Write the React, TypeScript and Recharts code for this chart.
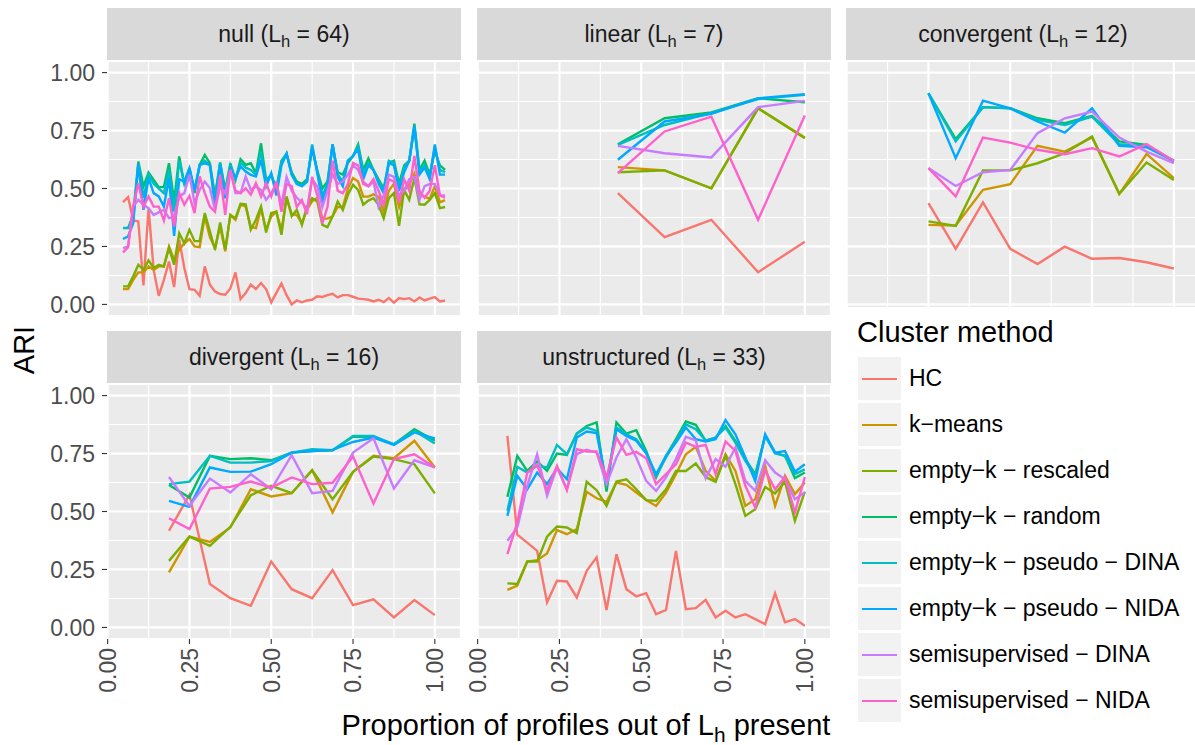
import React from 'react';
import { LineChart, Line, XAxis, YAxis, CartesianGrid } from 'recharts';

const FONT = '"Liberation Sans", Arial, Helvetica, sans-serif';

// ---- series meta ----
const seriesKeys = ['hc', 'km', 'rs', 'ra', 'pd', 'pn', 'sd', 'sn'];
const seriesNames = [
  'HC',
  'k\u2212means',
  'empty\u2212k \u2212 rescaled',
  'empty\u2212k \u2212 random',
  'empty\u2212k \u2212 pseudo \u2212 DINA',
  'empty\u2212k \u2212 pseudo \u2212 NIDA',
  'semisupervised \u2212 DINA',
  'semisupervised \u2212 NIDA',
];
const seriesColors = ['#F8766D', '#CD9600', '#7CAE00', '#00BE67', '#00BFC4', '#00A9FF', '#C77CFF', '#FF61CC'];

// ---- axis ticks ----
const xMajor = [0, 0.25, 0.5, 0.75, 1];
const xMinor = [0.125, 0.375, 0.625, 0.875];
const yMajor = [0, 0.25, 0.5, 0.75, 1];
const yMinor = [0.125, 0.375, 0.625, 0.875];
const X_DOMAIN: [number, number] = [-0.002, 1.08];
const Y_DOMAIN: [number, number] = [-0.05, 1.05];

// ---- null (L_h = 64), profiles 3..66 ----
const nullL = 64;
const nullStart = 3;
const nullHC = [0.441,0.463,0.362,0.358,0.082,0.415,0.149,0.037,0.106,0.185,0.075,0.279,0.157,0.066,0.063,0.037,0.164,0.085,0.056,0.045,0.042,0.069,0.138,0.023,0.049,0.085,0.066,0.092,0.066,0.009,0.05,0.09,0.04,0.0,0.017,0.009,0.017,0.02,0.035,0.032,0.04,0.046,0.03,0.04,0.04,0.033,0.025,0.023,0.02,0.013,0.02,0.01,0.027,0.008,0.027,0.023,0.027,0.013,0.03,0.017,0.025,0.032,0.013,0.017];
const nullKM = [0.066,0.066,0.106,0.138,0.138,0.164,0.149,0.164,0.164,0.25,0.193,0.236,0.264,0.282,0.25,0.247,0.379,0.29,0.243,0.336,0.229,0.386,0.365,0.43,0.422,0.336,0.329,0.415,0.322,0.379,0.40,0.32,0.46,0.39,0.385,0.35,0.41,0.445,0.46,0.37,0.37,0.38,0.42,0.42,0.50,0.545,0.53,0.465,0.465,0.475,0.465,0.40,0.49,0.52,0.42,0.49,0.52,0.565,0.47,0.465,0.455,0.51,0.44,0.45];
const nullRS = [0.078,0.078,0.121,0.171,0.149,0.19,0.157,0.171,0.164,0.243,0.171,0.307,0.264,0.322,0.273,0.273,0.394,0.315,0.236,0.353,0.236,0.386,0.372,0.434,0.432,0.322,0.365,0.422,0.31,0.394,0.40,0.30,0.466,0.38,0.408,0.343,0.422,0.458,0.444,0.343,0.333,0.38,0.444,0.408,0.473,0.516,0.494,0.43,0.448,0.458,0.43,0.372,0.458,0.48,0.339,0.494,0.451,0.545,0.432,0.43,0.451,0.48,0.415,0.42];
const nullRA = [0.329,0.329,0.386,0.616,0.509,0.569,0.537,0.506,0.506,0.609,0.444,0.638,0.516,0.588,0.48,0.602,0.645,0.609,0.466,0.612,0.494,0.609,0.537,0.626,0.602,0.609,0.566,0.695,0.537,0.559,0.50,0.62,0.65,0.57,0.53,0.52,0.54,0.67,0.58,0.50,0.53,0.69,0.57,0.56,0.61,0.64,0.69,0.58,0.63,0.58,0.54,0.50,0.61,0.62,0.52,0.60,0.62,0.78,0.58,0.62,0.56,0.66,0.60,0.58];
const nullPD = [0.33,0.33,0.37,0.60,0.46,0.56,0.52,0.50,0.48,0.58,0.40,0.62,0.52,0.58,0.49,0.60,0.62,0.60,0.46,0.61,0.48,0.60,0.54,0.61,0.59,0.58,0.56,0.66,0.53,0.56,0.49,0.61,0.65,0.56,0.52,0.51,0.53,0.69,0.57,0.47,0.52,0.69,0.56,0.53,0.62,0.64,0.68,0.56,0.61,0.58,0.53,0.49,0.62,0.61,0.50,0.59,0.62,0.76,0.57,0.60,0.55,0.68,0.58,0.57];
const nullPN = [0.282,0.293,0.351,0.609,0.408,0.545,0.48,0.466,0.422,0.545,0.296,0.54,0.53,0.588,0.494,0.602,0.609,0.602,0.422,0.602,0.458,0.588,0.545,0.595,0.573,0.559,0.552,0.624,0.509,0.566,0.47,0.60,0.65,0.56,0.52,0.51,0.53,0.68,0.57,0.44,0.51,0.69,0.55,0.51,0.62,0.64,0.67,0.54,0.60,0.58,0.52,0.48,0.61,0.60,0.49,0.57,0.62,0.77,0.56,0.59,0.54,0.69,0.56,0.56];
const nullSD = [0.243,0.25,0.422,0.451,0.43,0.415,0.386,0.397,0.408,0.372,0.379,0.466,0.48,0.559,0.437,0.494,0.53,0.501,0.408,0.509,0.48,0.58,0.48,0.48,0.552,0.494,0.509,0.494,0.451,0.48,0.52,0.43,0.55,0.49,0.46,0.44,0.41,0.54,0.51,0.42,0.49,0.56,0.52,0.53,0.56,0.60,0.58,0.53,0.51,0.53,0.42,0.47,0.56,0.55,0.47,0.49,0.54,0.55,0.45,0.51,0.52,0.52,0.47,0.47];
const nullSN = [0.224,0.247,0.425,0.523,0.422,0.466,0.422,0.422,0.362,0.458,0.336,0.48,0.43,0.468,0.394,0.552,0.48,0.422,0.40,0.559,0.386,0.58,0.491,0.48,0.501,0.473,0.523,0.466,0.523,0.466,0.53,0.40,0.52,0.51,0.42,0.45,0.39,0.55,0.47,0.35,0.42,0.62,0.49,0.48,0.52,0.61,0.60,0.52,0.51,0.54,0.49,0.43,0.54,0.53,0.44,0.54,0.49,0.64,0.49,0.46,0.49,0.60,0.47,0.46];

// ---- linear (L_h = 7), profiles 3..7 ----
const linL = 7;
const linStart = 3;
const linHC = [0.480, 0.290, 0.365, 0.139, 0.270];
const linKM = [0.592, 0.578, 0.501, 0.846, 0.720];
const linRS = [0.570, 0.578, 0.501, 0.846, 0.717];
const linRA = [0.691, 0.803, 0.828, 0.889, 0.872];
const linPD = [0.688, 0.774, 0.825, 0.886, 0.904];
const linPN = [0.624, 0.789, 0.822, 0.889, 0.907];
const linSD = [0.684, 0.652, 0.634, 0.851, 0.878];
const linSN = [0.566, 0.746, 0.810, 0.365, 0.815];

// ---- convergent (L_h = 12), profiles 3..12 ----
const conL = 12;
const conStart = 3;
const conHC = [0.437, 0.240, 0.440, 0.240, 0.174, 0.249, 0.197, 0.200, 0.182, 0.155];
const conKM = [0.343, 0.340, 0.494, 0.519, 0.684, 0.659, 0.720, 0.477, 0.649, 0.545];
const conRS = [0.358, 0.339, 0.578, 0.578, 0.609, 0.652, 0.724, 0.477, 0.612, 0.537];
const conRA = [0.911, 0.713, 0.851, 0.846, 0.803, 0.782, 0.813, 0.703, 0.688, 0.619];
const conPD = [0.911, 0.703, 0.851, 0.846, 0.796, 0.774, 0.810, 0.691, 0.684, 0.619];
const conPN = [0.911, 0.631, 0.879, 0.846, 0.789, 0.741, 0.846, 0.684, 0.678, 0.619];
const conSD = [0.588, 0.511, 0.570, 0.580, 0.739, 0.803, 0.832, 0.720, 0.659, 0.609];
const conSN = [0.588, 0.466, 0.720, 0.698, 0.667, 0.648, 0.674, 0.638, 0.691, 0.619];

// ---- divergent (L_h = 16), profiles 3..16 ----
const divL = 16;
const divStart = 3;
const divHC = [0.417,0.572,0.187,0.126,0.093,0.284,0.165,0.126,0.247,0.096,0.121,0.043,0.118,0.053];
const divKM = [0.237,0.392,0.369,0.431,0.596,0.565,0.579,0.678,0.496,0.671,0.740,0.730,0.805,0.690];
const divRS = [0.287,0.392,0.352,0.434,0.570,0.611,0.579,0.678,0.553,0.671,0.737,0.726,0.704,0.578];
const divRA = [0.614,0.560,0.740,0.726,0.730,0.721,0.754,0.761,0.764,0.822,0.822,0.790,0.855,0.805];
const divPD = [0.618,0.629,0.740,0.711,0.711,0.718,0.754,0.769,0.764,0.826,0.826,0.790,0.848,0.793];
const divPN = [0.546,0.520,0.690,0.671,0.672,0.704,0.754,0.761,0.766,0.800,0.819,0.787,0.841,0.815];
const divSD = [0.649,0.524,0.642,0.582,0.661,0.596,0.743,0.579,0.589,0.754,0.816,0.599,0.721,0.690];
const divSN = [0.471,0.424,0.599,0.606,0.629,0.603,0.647,0.618,0.624,0.737,0.534,0.726,0.747,0.690];

// ---- unstructured (L_h = 33), profiles 3..33 ----
const unsL = 33;
const unsStart = 3;
const unsHC = [0.826,0.40,0.366,0.330,0.108,0.201,0.198,0.129,0.244,0.302,0.075,0.316,0.165,0.134,0.148,0.057,0.075,0.330,0.079,0.083,0.119,0.043,0.072,0.043,0.057,0.036,0.014,0.147,0.022,0.036,0.007];
const unsKM = [0.162,0.180,0.284,0.290,0.319,0.420,0.402,0.424,0.585,0.557,0.542,0.625,0.615,0.582,0.55,0.524,0.582,0.661,0.747,0.779,0.675,0.632,0.747,0.675,0.524,0.553,0.697,0.524,0.654,0.575,0.625];
const unsRS = [0.190,0.187,0.284,0.284,0.391,0.435,0.431,0.407,0.628,0.592,0.524,0.629,0.639,0.596,0.549,0.546,0.596,0.675,0.675,0.707,0.649,0.628,0.740,0.618,0.481,0.510,0.606,0.578,0.628,0.460,0.586];
const unsRA = [0.563,0.740,0.675,0.716,0.675,0.750,0.744,0.836,0.869,0.884,0.586,0.884,0.836,0.851,0.761,0.647,0.740,0.812,0.888,0.874,0.805,0.819,0.869,0.805,0.726,0.661,0.826,0.754,0.740,0.644,0.668];
const unsPD = [0.503,0.693,0.668,0.697,0.690,0.787,0.747,0.836,0.862,0.848,0.621,0.862,0.833,0.812,0.754,0.654,0.733,0.805,0.876,0.855,0.807,0.819,0.862,0.797,0.718,0.654,0.826,0.750,0.740,0.661,0.682];
const unsPN = [0.481,0.654,0.596,0.668,0.618,0.687,0.639,0.819,0.845,0.838,0.618,0.855,0.826,0.805,0.750,0.661,0.740,0.797,0.862,0.812,0.802,0.812,0.894,0.833,0.733,0.632,0.833,0.754,0.761,0.672,0.704];
const unsSD = [0.374,0.431,0.611,0.747,0.568,0.690,0.596,0.747,0.766,0.754,0.618,0.733,0.812,0.733,0.632,0.589,0.647,0.726,0.822,0.807,0.644,0.726,0.693,0.776,0.632,0.589,0.721,0.668,0.639,0.553,0.582];
const unsSN = [0.316,0.453,0.668,0.700,0.592,0.697,0.592,0.769,0.759,0.759,0.647,0.819,0.744,0.757,0.730,0.618,0.661,0.704,0.797,0.779,0.787,0.661,0.802,0.761,0.611,0.517,0.678,0.596,0.649,0.496,0.649];

function build(L: number, start: number, series: number[][]) {
  return series[0].map((_, i) => {
    const row: Record<string, number> = { x: (start + i) / L };
    seriesKeys.forEach((k, j) => {
      row[k] = series[j][i];
    });
    return row;
  });
}

const nullData = build(nullL, nullStart, [nullHC, nullKM, nullRS, nullRA, nullPD, nullPN, nullSD, nullSN]);
const linData = build(linL, linStart, [linHC, linKM, linRS, linRA, linPD, linPN, linSD, linSN]);
const conData = build(conL, conStart, [conHC, conKM, conRS, conRA, conPD, conPN, conSD, conSN]);
const divData = build(divL, divStart, [divHC, divKM, divRS, divRA, divPD, divPN, divSD, divSN]);
const unsData = build(unsL, unsStart, [unsHC, unsKM, unsRS, unsRA, unsPD, unsPN, unsSD, unsSN]);

// ---- layout ----
const PW = 354;
const PH = 255;
const YW = 107;
const XH = 90;
const PAD = 20;
const STRIP_H = 53;
const COLS = [107, 477, 846];
const ROWS = [61, 384];

const XTick = (props: any) => {
  const { x, y, payload } = props;
  return (
    <text
      x={x}
      y={y}
      transform={`rotate(-90 ${x} ${y})`}
      textAnchor="end"
      dy="0.36em"
      fill="#4D4D4D"
      fontSize={23}
      fontFamily={FONT}
    >
      {Number(payload.value).toFixed(2)}
    </text>
  );
};

function StripLabel({ name, L }: { name: string; L: number }) {
  return (
    <span>
      {name} (L
      <span style={{ fontSize: '72%', position: 'relative', top: '0.32em' }}>h</span> = {L})
    </span>
  );
}

function Panel({
  data,
  col,
  row,
  name,
  L,
  showY,
  showX,
}: {
  data: any[];
  col: number;
  row: number;
  name: string;
  L: number;
  showY: boolean;
  showX: boolean;
}) {
  const left = COLS[col];
  const top = ROWS[row];
  const yw = showY ? YW : 0;
  const w = PW + yw + 2 * PAD;
  const h = PH + (showX ? XH : 0) + 2 * PAD;
  return (
    <>
      <div
        style={{
          position: 'absolute',
          left,
          top: top - STRIP_H,
          width: PW,
          height: STRIP_H,
          background: '#D9D9D9',
          color: '#1A1A1A',
          fontSize: 23,
          fontFamily: FONT,
          display: 'flex',
          alignItems: 'center',
          justifyContent: 'center',
          whiteSpace: 'nowrap',
        }}
      >
        <StripLabel name={name} L={L} />
      </div>
      <div style={{ position: 'absolute', left, top, width: PW, height: PH, background: '#EBEBEB' }} />
      <div style={{ position: 'absolute', left: left - yw - PAD, top: top - PAD, width: w, height: h }}>
        <LineChart width={w} height={h} data={data} margin={{ top: PAD, right: PAD, bottom: PAD, left: PAD }}>
          <XAxis xAxisId="minor" dataKey="x" type="number" domain={X_DOMAIN} ticks={xMinor} hide allowDataOverflow />
          <YAxis yAxisId="minor" type="number" domain={Y_DOMAIN} ticks={yMinor} hide allowDataOverflow />
          <XAxis
            xAxisId="major"
            dataKey="x"
            type="number"
            domain={X_DOMAIN}
            ticks={xMajor}
            interval={0}
            allowDataOverflow
            hide={!showX}
            height={XH}
            axisLine={false}
            tickLine={{ stroke: '#333333', strokeWidth: 1.1 }}
            tickSize={5}
            tickMargin={4}
            tick={<XTick />}
          />
          <YAxis
            yAxisId="major"
            type="number"
            domain={Y_DOMAIN}
            ticks={yMajor}
            interval={0}
            allowDataOverflow
            hide={!showY}
            width={YW}
            axisLine={false}
            tickLine={{ stroke: '#333333', strokeWidth: 1.1 }}
            tickSize={5}
            tickMargin={7}
            tickFormatter={(v: number) => v.toFixed(2)}
            tick={{ fill: '#4D4D4D', fontSize: 23, fontFamily: FONT }}
          />
          <CartesianGrid xAxisId="minor" yAxisId="minor" stroke="#FFFFFF" strokeWidth={1.1} />
          <CartesianGrid xAxisId="major" yAxisId="major" stroke="#FFFFFF" strokeWidth={2.2} />
          {seriesKeys.map((k, i) => (
            <Line
              key={k}
              xAxisId="major"
              yAxisId="major"
              type="linear"
              dataKey={k}
              stroke={seriesColors[i]}
              strokeWidth={2.4}
              dot={false}
              activeDot={false}
              isAnimationActive={false}
            />
          ))}
        </LineChart>
      </div>
    </>
  );
}

function Legend() {
  return (
    <div
      style={{
        position: 'absolute',
        left: 846,
        top: 307,
        width: 349,
        height: 438,
        background: '#FFFFFF',
        fontFamily: FONT,
        color: '#000000',
      }}
    >
      <div style={{ position: 'absolute', left: 11, top: 8, fontSize: 29, lineHeight: '34px', whiteSpace: 'nowrap' }}>
        Cluster method
      </div>
      {seriesNames.map((n, i) => (
        <div key={n} style={{ position: 'absolute', left: 12, top: 50 + i * 46, height: 43, display: 'flex', alignItems: 'center' }}>
          <div style={{ width: 43, height: 43, background: '#F2F2F2', position: 'relative' }}>
            <div style={{ position: 'absolute', left: 4, right: 4, top: 20.5, height: 2.4, background: seriesColors[i] }} />
          </div>
          <div style={{ marginLeft: 8, fontSize: 23, whiteSpace: 'nowrap' }}>{n}</div>
        </div>
      ))}
    </div>
  );
}

export default function App() {
  return (
    <div
      style={{
        position: 'fixed',
        left: 0,
        top: 0,
        width: 1195,
        height: 745,
        overflow: 'hidden',
        background: '#FFFFFF',
        fontFamily: FONT,
      }}
    >
      <Panel data={nullData} col={0} row={0} name="null" L={64} showY showX={false} />
      <Panel data={linData} col={1} row={0} name="linear" L={7} showY={false} showX={false} />
      <Panel data={conData} col={2} row={0} name="convergent" L={12} showY={false} showX={false} />
      <Panel data={divData} col={0} row={1} name="divergent" L={16} showY showX />
      <Panel data={unsData} col={1} row={1} name="unstructured" L={33} showY={false} showX />
      <Legend />
      <div
        style={{
          position: 'absolute',
          left: 24,
          top: 350,
          transform: 'translate(-50%, -50%) rotate(-90deg)',
          fontSize: 29,
          whiteSpace: 'nowrap',
          color: '#000000',
        }}
      >
        ARI
      </div>
      <div
        style={{
          position: 'absolute',
          left: 586,
          top: 709,
          transform: 'translateX(-50%)',
          fontSize: 29,
          lineHeight: '32px',
          whiteSpace: 'nowrap',
          color: '#000000',
        }}
      >
        Proportion of profiles out of L
        <span style={{ fontSize: '72%', position: 'relative', top: '0.32em' }}>h</span> present
      </div>
    </div>
  );
}
